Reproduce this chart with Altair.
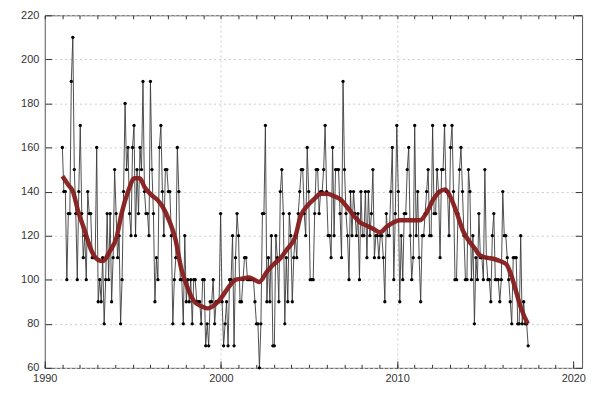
import altair as alt
import pandas as pd

seg1 = [160,140,140,100,130,130,190,210,150,130,100,140,170,130,110,120,100,140,130,130,
        110,110,110,160,90,100,90,110,80,100,130,100,130,90,110,150,130,110]
seg2 = [120,80,100,140,180,150,160,130,120,160,170,120,150,130,160,150,190,140,130,130,
        120,190,150,130,90,110,100,160,170,140,120,150,150,140,140,120,80,100,110,160]
seg3 = [140,100,100,80,120,90,100,90,100,80,100,100,90,90,90,80,100,100,70,80,
        70,90,90,100,80,90,90,90,130,90,70,80,90,70,100,100,120,70]
seg4 = [110,130,120,90,90,100,110,110,100,100,100,100,100,90,80,80,60,80,130,130,
        170,90,110,90,120,70,70,120,110,90,140,150,130,80,110,90,130,120,90]
seg5 = [110,120,110,130,140,150,150,130,120,160,140,100,100,100,130,150,150,130,140,140,
        150,170,140,120,120,110,160,120,150,150,150,130,110,190,150,130,120,100,140,120,140,130]
seg6 = [120,130,100,140,120,120,140,110,140,120,130,150,110,120,120,110,120,120,110,90,
        130,120,120,140,160,100,130,170,140,90,120,100,130,130,150,160,120,100,110,170]
seg7 = [120,140,110,90,120,120,130,140,150,120,120,170,130,130,150,140,110,150,150,170,
        140,140,120,160,170,140,100,100,130,150,160,140,120,100,100,150,140,100,120,80,110]
seg8 = [100,130,110,110,100,150,110,100,100,90,120,130,100,100,100,90,100,140,120,120,
        110,100,90,80,110,110,110,80,80,120,80,90,80,80,70]
values = seg1 + seg2 + seg3 + seg4 + seg5 + seg6 + seg7 + seg8

first_year = 1991.0
last_year = 2017.44
step = (last_year - first_year) / (len(values) - 1)
years = [first_year + i * step for i in range(len(values))]

# Smoothed trend
smooth_years = [1991.0, 1991.34, 1991.6, 1991.9, 1992.28, 1992.66, 1993.03, 1993.3, 1993.7, 1994.07,
                1994.36, 1994.73, 1995.1, 1995.39, 1995.67, 1996.05, 1996.42, 1996.7, 1997.08, 1997.4,
                1997.75, 1998.12, 1998.5, 1998.88, 1999.25, 1999.63, 2000.0, 2000.38, 2000.85, 2001.2,
                2001.6, 2001.9, 2002.17, 2002.64, 2003.0, 2003.4, 2003.77, 2004.2, 2004.53, 2004.9,
                2005.28, 2005.66, 2006.03, 2006.4, 2006.78, 2007.16, 2007.6, 2007.9, 2008.28, 2008.66,
                2009.03, 2009.41, 2009.79, 2010.16, 2010.54, 2011.02, 2011.3, 2011.68, 2012.06, 2012.43,
                2012.72, 2013.0, 2013.38, 2013.75, 2014.13, 2014.43, 2014.7, 2015.07, 2015.45, 2015.83,
                2016.2, 2016.48, 2016.76, 2017.04, 2017.42]
smooth_values = [147, 143, 140, 131, 122, 113, 109, 108.5, 113, 119,
                 130, 140, 146, 146, 142, 138.5, 136, 133, 126.5, 119,
                 105, 96, 90, 88, 87, 88.5, 91.5, 96, 100, 100.5,
                 101, 100, 99, 104, 107, 110, 114, 119, 129, 133.5,
                 136.5, 139, 139, 138, 136.5, 133, 128.5, 126, 124.5, 123,
                 121.5, 124, 126, 127, 127, 127, 127, 130.5, 136.5, 140,
                 141, 138, 130.5, 122, 117, 114, 111, 110, 109.5, 108.5,
                 107, 102, 94.5, 87, 80]

x_major_ticks = [1990, 2000, 2010, 2020]
x_grid_lines = [2000, 2010]
x_minor_ticks = list(range(1990, 2021))
y_ticks = [60, 80, 100, 120, 140, 160, 180, 200, 220]

df = pd.DataFrame({"year": years, "value": values})
sdf = pd.DataFrame({"year": smooth_years, "value": smooth_values})

x_scale = alt.Scale(domain=[1990, 2020.5], nice=False, zero=False)
y_scale = alt.Scale(domain=[60, 220], nice=False, zero=False)

FONT = "Liberation Sans"
TICK = "#333333"
GRID = "#cccccc"
DASH = [2, 3]

axis_x_major = alt.Axis(
    orient="bottom", values=x_major_ticks, format="d", title=None, grid=False,
    domain=False, tickSize={"expr": "-7"}, tickColor=TICK, tickWidth=1,
    labelPadding=12, labelFont=FONT, labelFontSize=11, labelColor="#333333",
    labelFlush=False, labelOverlap=False,
)
axis_x_grid = alt.Axis(
    orient="bottom", values=x_grid_lines, labels=False, title=None, ticks=False,
    domain=False, grid=True, gridDash=DASH, gridColor=GRID, gridWidth=1,
)
axis_x_minor_bottom = alt.Axis(
    orient="bottom", values=x_minor_ticks, labels=False, title=None, grid=False,
    domain=False, tickSize={"expr": "-3.5"}, tickColor=TICK, tickWidth=1,
)
axis_x_minor_top = alt.Axis(
    orient="top", values=x_minor_ticks, labels=False, title=None, grid=False,
    domain=False, tickSize={"expr": "-3.5"}, tickColor=TICK, tickWidth=1,
)
axis_y_left = alt.Axis(
    orient="left", values=y_ticks, title=None,
    grid=True, gridDash=DASH, gridColor=GRID, gridWidth=1,
    domain=False, tickSize={"expr": "-7"}, tickColor=TICK, tickWidth=1,
    labelPadding=13, labelFont=FONT, labelFontSize=11, labelColor="#333333",
    labelFlush=False,
)
axis_y_right = alt.Axis(
    orient="right", values=y_ticks, labels=False, title=None, grid=False,
    domain=False, tickSize={"expr": "-7"}, tickColor=TICK, tickWidth=1,
)

# invisible layer that only carries the vertical grid lines
grid_layer = alt.Chart(df).mark_circle(opacity=0).encode(
    x=alt.X("year:Q", scale=x_scale, axis=axis_x_grid),
    y=alt.Y("value:Q", scale=y_scale, axis=None),
)
line = alt.Chart(df).mark_line(color="#3a3a3a", strokeWidth=0.9).encode(
    x=alt.X("year:Q", scale=x_scale, axis=axis_x_major),
    y=alt.Y("value:Q", scale=y_scale, axis=axis_y_left),
)
points = alt.Chart(df).mark_circle(size=11, color="black", opacity=1).encode(
    x=alt.X("year:Q", scale=x_scale, axis=axis_x_minor_bottom),
    y=alt.Y("value:Q", scale=y_scale, axis=axis_y_right),
)
smooth = alt.Chart(sdf).mark_line(
    color="#861c1c", strokeWidth=4.5, interpolate="monotone", opacity=0.95
).encode(
    x=alt.X("year:Q", scale=x_scale, axis=axis_x_minor_top),
    y=alt.Y("value:Q", scale=y_scale, axis=None),
)

chart = (
    alt.layer(grid_layer, line, points, smooth)
    .resolve_axis(x="independent", y="independent")
    .properties(
        width=541, height=355,
        padding={"left": 37, "top": 6, "right": 10, "bottom": 26},
        autosize=alt.AutoSizeParams(type="none"),
        background="white",
    )
    .configure_view(stroke="#555555", strokeWidth=1)
)

chart.save("out.html", embed_options={"renderer": "svg", "actions": False})
